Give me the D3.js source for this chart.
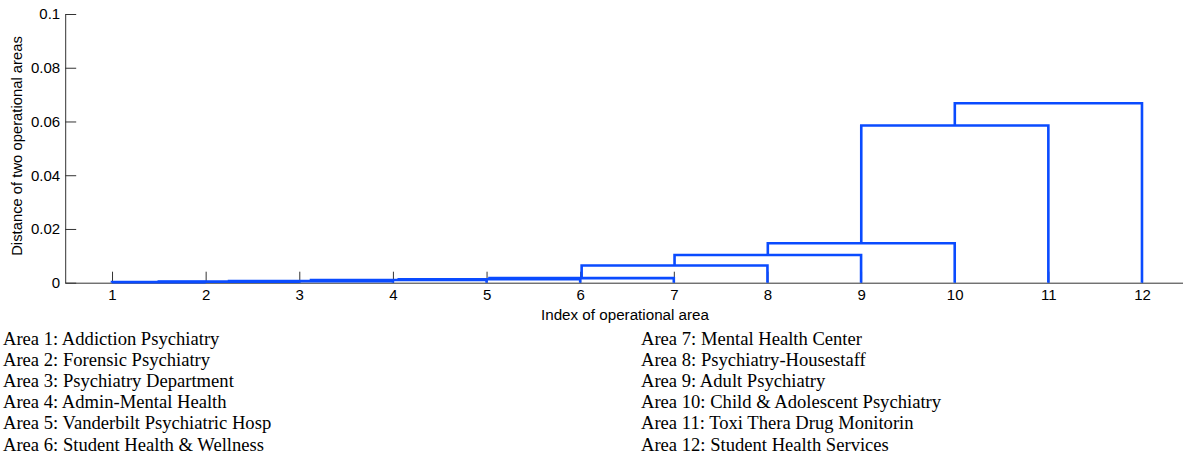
<!DOCTYPE html>
<html>
<head>
<meta charset="utf-8">
<script src="https://cdn.jsdelivr.net/npm/d3@7"></script>
<style>
  html, body { margin: 0; padding: 0; background: #fff; }
  svg { display: block; }
</style>
</head>
<body>
<svg id="chart" width="1183" height="460"></svg>
<script>
// ---- data ----
const leaves = [1, 2, 3, 4, 5, 6, 7, 8, 9, 10, 11, 12];
// linkage (MATLAB-style): ids 1..12 are leaves, 13.. are merged clusters in order
const linkLeft   = [1, 13, 14, 15, 16, 17, 18, 19, 20, 21, 22];
const linkRight  = [2, 3, 4, 5, 6, 7, 8, 9, 10, 11, 12];
const linkHeight = [0.0002, 0.0004, 0.0006, 0.0010, 0.0013, 0.0017, 0.0064, 0.0103, 0.0147, 0.0585, 0.0668];
const yTicks = [0, 0.02, 0.04, 0.06, 0.08, 0.1];
const yTickLabels = ["0", "0.02", "0.04", "0.06", "0.08", "0.1"];
const xLabel = "Index of operational area";
const yLabel = "Distance of two operational areas";
const areaNames = [
  "Area 1: Addiction Psychiatry",
  "Area 2: Forensic Psychiatry",
  "Area 3: Psychiatry Department",
  "Area 4: Admin-Mental Health",
  "Area 5: Vanderbilt Psychiatric Hosp",
  "Area 6: Student Health & Wellness",
  "Area 7: Mental Health Center",
  "Area 8: Psychiatry-Housestaff",
  "Area 9: Adult Psychiatry",
  "Area 10: Child & Adolescent Psychiatry",
  "Area 11: Toxi Thera Drug Monitorin",
  "Area 12: Student Health Services"
];

// ---- layout ----
const svg = d3.select("#chart");
const x = d3.scaleLinear().domain([0.5, 12.5]).range([65.2, 1188.8]);
const y = d3.scaleLinear().domain([0, 0.1]).range([282.7, 14]);
const axisFont = "'Liberation Sans', Arial, sans-serif";
const lineColor = "#0a4bff";

// x axis
const gx = svg.append("g").attr("transform", `translate(0,${y(0)})`)
  .call(d3.axisBottom(x).tickValues(leaves).tickFormat(d3.format("d"))
    .tickSizeInner(-11).tickSizeOuter(0).tickPadding(7));
// y axis
const gy = svg.append("g").attr("transform", `translate(${x(0.5)},0)`)
  .call(d3.axisLeft(y).tickValues(yTicks).tickFormat((d, i) => yTickLabels[i])
    .tickSizeInner(-11).tickSizeOuter(0).tickPadding(5));

[gx, gy].forEach(g => {
  g.select(".domain").attr("stroke", "#333").attr("stroke-width", 1);
  g.selectAll(".tick line").attr("stroke", "#333");
  g.selectAll(".tick text").attr("fill", "#000")
    .style("font-family", axisFont).style("font-size", "15px");
});

// axis labels
svg.append("text")
  .attr("x", 625).attr("y", 320)
  .attr("text-anchor", "middle")
  .style("font-family", axisFont).style("font-size", "15.2px")
  .text(xLabel);
svg.append("text")
  .attr("transform", `translate(22,${146}) rotate(-90)`)
  .attr("text-anchor", "middle")
  .style("font-family", axisFont).style("font-size", "14.8px")
  .text(yLabel);

// ---- dendrogram ----
const nodeX = {}, nodeH = {};
leaves.forEach(l => { nodeX[l] = l; nodeH[l] = 0; });
const links = linkLeft.map((a, i) => {
  const b = linkRight[i], h = linkHeight[i], id = leaves.length + 1 + i;
  const seg = { xa: nodeX[a], ha: nodeH[a], xb: nodeX[b], hb: nodeH[b], h };
  nodeX[id] = (nodeX[a] + nodeX[b]) / 2;
  nodeH[id] = h;
  return seg;
});

svg.append("g")
  .selectAll("path")
  .data(links)
  .join("path")
  .attr("fill", "none")
  .attr("stroke", lineColor)
  .attr("stroke-width", 2.6)
  .attr("d", d => {
    const p = d3.path();
    p.moveTo(x(d.xa), y(d.ha));
    p.lineTo(x(d.xa), y(d.h));
    p.lineTo(x(d.xb), y(d.h));
    p.lineTo(x(d.xb), y(d.hb));
    return p.toString();
  });

// ---- legend of area names ----
const legend = svg.append("g")
  .style("font-family", "'Liberation Serif', 'Times New Roman', serif")
  .style("font-size", "18.6px");
legend.selectAll("text")
  .data(areaNames)
  .join("text")
  .attr("x", (d, i) => i < 6 ? 3 : 641)
  .attr("y", (d, i) => 344.5 + (i % 6) * 21.2)
  .attr("fill", "#000")
  .text(d => d);
</script>
</body>
</html>
